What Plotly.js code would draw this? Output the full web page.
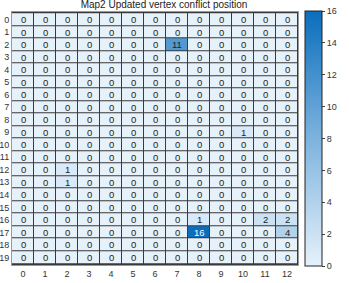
<!DOCTYPE html>
<html><head><meta charset="utf-8">
<script src="https://cdn.plot.ly/plotly-3.0.1.min.js"></script>
<style>html,body{margin:0;padding:0;background:#fff}#c{width:349px;height:283px}</style>
</head><body><div id="c"></div>
<script>
const cols = [0,1,2,3,4,5,6,7,8,9,10,11,12];
const rows = [0,1,2,3,4,5,6,7,8,9,10,11,12,13,14,15,16,17,18,19];
// nonzero cells: [row, col, value]
const nonzero = [[2,7,11],[9,10,1],[12,2,1],[13,2,1],[16,8,1],[16,11,2],[16,12,2],[17,8,16],[17,12,4]];
const z = rows.map(() => cols.map(() => 0));
nonzero.forEach(([r,c,v]) => { z[r][c] = v; });
const colorTicks = [0,2,4,6,8,10,12,14,16];

const annotations = [];
rows.forEach((r,i) => cols.forEach((c,j) => {
  const v = z[i][j];
  annotations.push({x:c, y:r, xref:'x', yref:'y', text:String(v), showarrow:false,
    font:{family:'Liberation Sans, Arial, sans-serif', size:9.5, color: v>=13 ? '#ffffff' : '#222222'}});
}));

const trace = {
  type:'heatmap', x:cols, y:rows, z:z, zmin:0, zmax:16,
  xgap:1, ygap:1,
  colorscale:[[0,'#E6F1FA'],[0.5,'#7DB3DE'],[1,'#0A6EBC']],
  hoverinfo:'none',
  colorbar:{thickness:17, thicknessmode:'pixels', len:255, lenmode:'pixels',
    x:1.023, xanchor:'left', y:0.5, yanchor:'middle', outlinecolor:'#222', outlinewidth:1,
    tickvals:colorTicks, ticks:'outside', ticklen:3, tickcolor:'#444',
    tickfont:{family:'Liberation Sans, Arial, sans-serif', size:9, color:'#333'}, xpad:0, ypad:0}
};
const layout = {
  width:349, height:283, margin:{l:11.5, r:37, t:12, b:18},
  paper_bgcolor:'#fff', plot_bgcolor:'#3a3a3a',
  title:{text:'Map2 Updated vertex conflict position', x:0.47, xanchor:'center', y:0.998, yanchor:'top',
    font:{family:'Liberation Sans, Arial, sans-serif', size:10, color:'#222'}},
  xaxis:{tickvals:cols, ticktext:cols.map(String), showgrid:false, zeroline:false, ticks:'', ticklen:0,
    tickfont:{family:'Liberation Sans, Arial, sans-serif', size:9, color:'#333'}, showline:true, linecolor:'#999', mirror:true},
  yaxis:{tickvals:rows, ticktext:rows.map(String), autorange:'reversed', showgrid:false, zeroline:false, ticks:'',
    tickfont:{family:'Liberation Sans, Arial, sans-serif', size:9, color:'#333'}, showline:true, linecolor:'#999', mirror:true},
  annotations:annotations
};
Plotly.newPlot('c',[trace],layout,{displayModeBar:false, staticPlot:true});
</script></body></html>
